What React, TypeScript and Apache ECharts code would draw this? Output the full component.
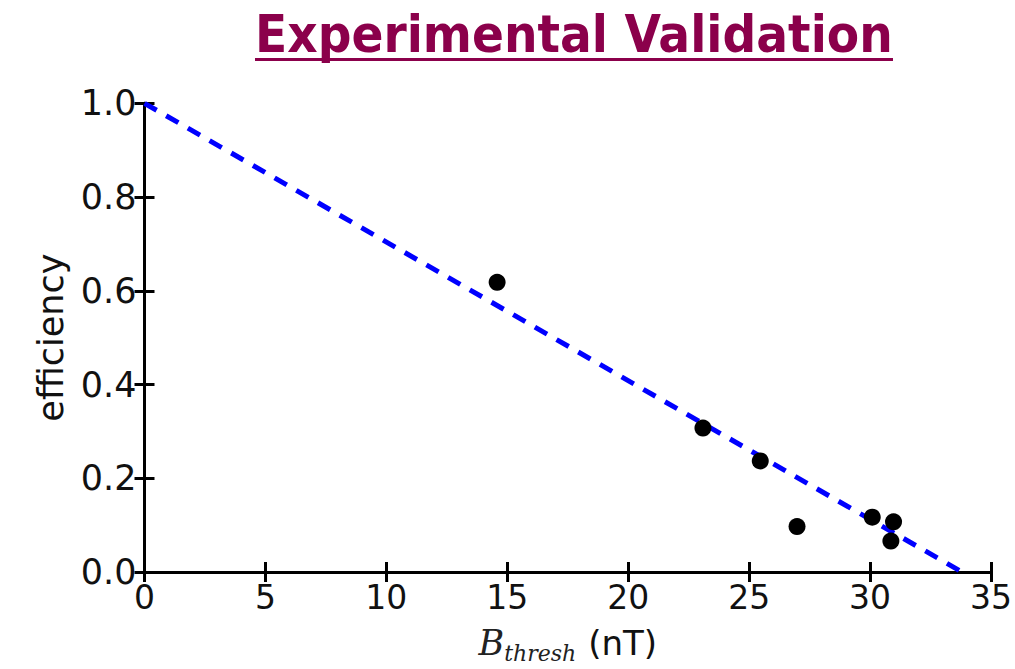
import React, { useEffect, useRef } from "react";
import * as echarts from "echarts";

const measuredX: number[] = [14.58, 23.09, 25.46, 26.98, 30.09, 30.97, 30.86];
const efficiency: number[] = [0.618, 0.307, 0.237, 0.097, 0.117, 0.107, 0.066];
const fitX: number[] = [0, 33.8];
const fitY: number[] = [1.0, 0.0];
const xTicks = { min: 0, max: 35, interval: 5 };
const yTicks = { min: 0, max: 1, interval: 0.2 };
const titleText = "Experimental Validation";

export default function App() {
  const ref = useRef<HTMLDivElement>(null);
  useEffect(() => {
    if (!ref.current) return;
    const chart = echarts.init(ref.current, undefined, { renderer: "svg" });
    const titleFont = "bold 51px 'DejaVu Sans'";
    let scaleX = 0.85;
    try {
      const ctx = document.createElement("canvas").getContext("2d");
      if (ctx) {
        ctx.font = titleFont;
        const w = ctx.measureText(titleText).width;
        if (w > 0) scaleX = 638 / w;
      }
    } catch (e) {}
    const axisLine = { show: true, lineStyle: { color: "#000", width: 3 } };
    const tick = { show: true, inside: true, length: 10, lineStyle: { color: "#000", width: 3 } };
    chart.setOption({
      animation: false,
      backgroundColor: "#fff",
      grid: { left: 144.5, right: 23.3, top: 103.3, bottom: 95.5, containLabel: false },
      graphic: [
        {
          type: "text",
          x: 255,
          y: 34,
          scaleX: scaleX,
          style: {
            text: titleText,
            font: titleFont,
            fill: "#8B004B",
            lineHeight: 44,
            verticalAlign: "middle",
          },
        },
        {
          type: "rect",
          shape: { x: 255, y: 58, width: 638, height: 3 },
          style: { fill: "#8B004B" },
        },
      ],
      xAxis: [
        {
          type: "value",
          ...xTicks,
          position: "bottom",
          axisLine,
          axisTick: tick,
          splitLine: { show: false },
          axisLabel: {
            fontFamily: "DejaVu Sans",
            fontSize: 33,
            color: "#111",
            margin: 9,
            formatter: (v: number) => String(v),
          },
          name: "{b|B}{s|thresh}{n|(nT)}",
          nameLocation: "middle",
          nameGap: 50,
          nameTextStyle: {
            rich: {
              b: { fontFamily: "DejaVu Serif", fontStyle: "italic", fontSize: 35, color: "#222" },
              s: { fontFamily: "DejaVu Serif", fontStyle: "italic", fontSize: 22, color: "#222", padding: [20, 0, 0, 0] },
              n: { fontFamily: "DejaVu Sans", fontSize: 34, color: "#111", padding: [0, 0, 0, 12] },
            },
          },
        },
        {
          type: "value",
          ...xTicks,
          position: "top",
          axisLine,
          axisTick: tick,
          axisLabel: { show: false },
          splitLine: { show: false },
        },
      ],
      yAxis: [
        {
          type: "value",
          ...yTicks,
          position: "left",
          axisLine,
          axisTick: tick,
          splitLine: { show: false },
          axisLabel: {
            fontFamily: "DejaVu Sans",
            fontSize: 35,
            color: "#111",
            margin: 8,
            formatter: (v: number) => v.toFixed(1),
          },
          name: "efficiency",
          nameLocation: "middle",
          nameRotate: 90,
          nameGap: 76,
          nameTextStyle: { fontFamily: "DejaVu Sans", fontSize: 35, color: "#111" },
        },
        {
          type: "value",
          ...yTicks,
          position: "right",
          axisLine,
          axisTick: tick,
          axisLabel: { show: false },
          splitLine: { show: false },
        },
      ],
      series: [
        {
          type: "line",
          data: fitX.map((x, i) => [x, fitY[i]]),
          symbol: "none",
          lineStyle: { color: "#0000ff", width: 5, type: [14, 11] },
          z: 2,
        },
        {
          type: "scatter",
          data: measuredX.map((x, i) => [x, efficiency[i]]),
          symbol: "circle",
          symbolSize: 17,
          itemStyle: { color: "#000", opacity: 1 },
          z: 3,
        },
      ],
    });
    return () => chart.dispose();
  }, []);
  return (
    <div
      ref={ref}
      style={{ position: "fixed", left: 0, top: 0, width: 1015, height: 669, background: "#fff" }}
    />
  );
}
